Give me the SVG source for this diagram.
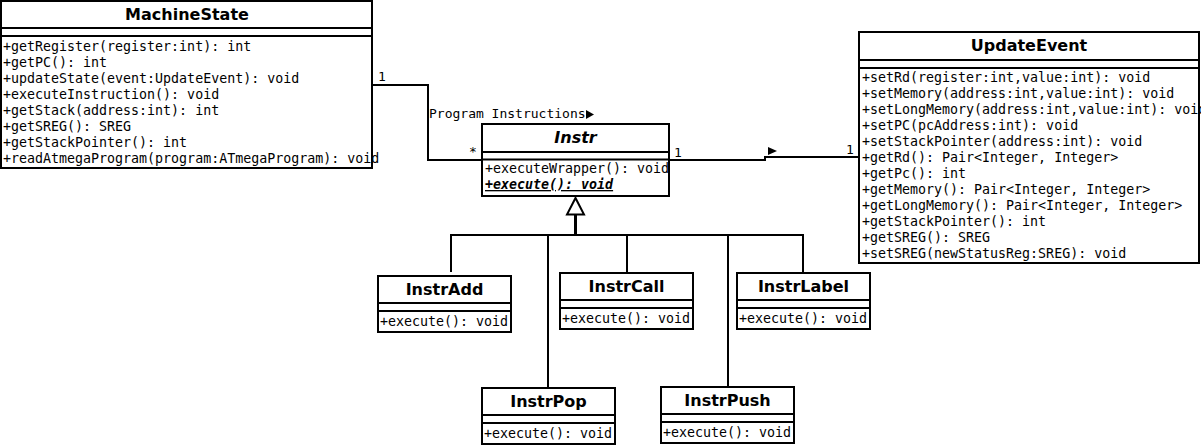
<svg xmlns="http://www.w3.org/2000/svg" width="1201" height="445" viewBox="0 0 1201 445">
<style>
.box{fill:#fff;stroke:#000;stroke-width:2}
.sep{stroke:#000;stroke-width:2}
.title{font-family:"DejaVu Sans",sans-serif;font-weight:bold;font-size:16px;text-anchor:middle;fill:#000}
.m{font-family:"DejaVu Sans Mono",monospace;font-size:13.3px;fill:#000}
.lbl{font-family:"DejaVu Sans Mono",monospace;font-size:13px;fill:#000}
.conn{fill:none;stroke:#000;stroke-width:2}
</style>
<rect width="1201" height="445" fill="#fff"/>
<g id="connectors">
<polyline class="conn" points="372,85 428,85 428,160 482,160"/>
<polyline class="conn" points="669,160 765,160 765,157 859,157"/>
<polyline class="conn" points="451,272 451,235 803,235 803,273"/>
<line class="conn" x1="548" y1="235" x2="548" y2="388"/>
<line class="conn" x1="627" y1="235" x2="627" y2="273"/>
<line class="conn" x1="728" y1="235" x2="728" y2="387"/>
<line x1="575.5" y1="214" x2="575.5" y2="235" stroke="#000" stroke-width="3"/>
<polygon points="575.5,198 567,214.5 584,214.5" fill="#fff" stroke="#000" stroke-width="2"/>
<text class="lbl" x="378" y="81">1</text>
<text class="lbl" x="469" y="156">*</text>
<text class="lbl" x="429" y="118">Program Instructions</text>
<polygon points="586,110 594,114.5 586,119" fill="#000"/>
<text class="lbl" x="674" y="157">1</text>
<polygon points="768,147 777,151 768,155" fill="#000"/>
<text class="lbl" x="846" y="154">1</text>
</g>
<g id="MachineState">
<rect class="box" x="1" y="1" width="371" height="167"/>
<line class="sep" x1="1" y1="28" x2="372" y2="28"/>
<line class="sep" x1="1" y1="36" x2="372" y2="36"/>
<text class="title" x="187" y="20">MachineState</text>
<text class="m" x="3" y="51">+getRegister(register:int): int</text>
<text class="m" x="3" y="67">+getPC(): int</text>
<text class="m" x="3" y="83">+updateState(event:UpdateEvent): void</text>
<text class="m" x="3" y="99">+executeInstruction(): void</text>
<text class="m" x="3" y="115">+getStack(address:int): int</text>
<text class="m" x="3" y="131">+getSREG(): SREG</text>
<text class="m" x="3" y="147">+getStackPointer(): int</text>
<text class="m" x="3" y="163">+readAtmegaProgram(program:ATmegaProgram): void</text>
</g>
<g id="Instr">
<rect class="box" x="482" y="124" width="187" height="72"/>
<line class="sep" x1="482" y1="152" x2="669" y2="152"/>
<line class="sep" x1="482" y1="159.5" x2="669" y2="159.5"/>
<text class="title" x="575.5" y="143" font-style="italic">Instr</text>
<text class="m" x="485" y="173">+executeWrapper(): void</text>
<text class="m" x="485" y="189" font-weight="bold" font-style="italic" text-decoration="underline">+execute(): void</text>
</g>
<g id="UpdateEvent">
<rect class="box" x="859" y="32" width="340" height="231"/>
<line class="sep" x1="859" y1="60" x2="1199" y2="60"/>
<line class="sep" x1="859" y1="68" x2="1199" y2="68"/>
<text class="title" x="1029" y="51">UpdateEvent</text>
<text class="m" x="862" y="82">+setRd(register:int,value:int): void</text>
<text class="m" x="862" y="98">+setMemory(address:int,value:int): void</text>
<text class="m" x="862" y="114">+setLongMemory(address:int,value:int): void</text>
<text class="m" x="862" y="130">+setPC(pcAddress:int): void</text>
<text class="m" x="862" y="146">+setStackPointer(address:int): void</text>
<text class="m" x="862" y="162">+getRd(): Pair&lt;Integer, Integer&gt;</text>
<text class="m" x="862" y="178">+getPc(): int</text>
<text class="m" x="862" y="194">+getMemory(): Pair&lt;Integer, Integer&gt;</text>
<text class="m" x="862" y="210">+getLongMemory(): Pair&lt;Integer, Integer&gt;</text>
<text class="m" x="862" y="226">+getStackPointer(): int</text>
<text class="m" x="862" y="242">+getSREG(): SREG</text>
<text class="m" x="862" y="258">+setSREG(newStatusReg:SREG): void</text>
</g>
<g id="InstrAdd">
<rect class="box" x="378" y="276" width="133" height="56"/>
<line class="sep" x1="378" y1="303" x2="511" y2="303"/>
<line class="sep" x1="378" y1="311" x2="511" y2="311"/>
<text class="title" x="444.5" y="295">InstrAdd</text>
<text class="m" x="380" y="326">+execute(): void</text>
</g>
<g id="InstrCall">
<rect class="box" x="560" y="273" width="133" height="56"/>
<line class="sep" x1="560" y1="300" x2="693" y2="300"/>
<line class="sep" x1="560" y1="308" x2="693" y2="308"/>
<text class="title" x="626.5" y="292">InstrCall</text>
<text class="m" x="562" y="323">+execute(): void</text>
</g>
<g id="InstrLabel">
<rect class="box" x="737" y="273" width="133" height="56"/>
<line class="sep" x1="737" y1="300" x2="870" y2="300"/>
<line class="sep" x1="737" y1="308" x2="870" y2="308"/>
<text class="title" x="803.5" y="292">InstrLabel</text>
<text class="m" x="739" y="323">+execute(): void</text>
</g>
<g id="InstrPop">
<rect class="box" x="482" y="388" width="133" height="56"/>
<line class="sep" x1="482" y1="415" x2="615" y2="415"/>
<line class="sep" x1="482" y1="423" x2="615" y2="423"/>
<text class="title" x="548.5" y="407">InstrPop</text>
<text class="m" x="484" y="438">+execute(): void</text>
</g>
<g id="InstrPush">
<rect class="box" x="661" y="387" width="133" height="56"/>
<line class="sep" x1="661" y1="414" x2="794" y2="414"/>
<line class="sep" x1="661" y1="422" x2="794" y2="422"/>
<text class="title" x="727.5" y="406">InstrPush</text>
<text class="m" x="663" y="437">+execute(): void</text>
</g>
</svg>
